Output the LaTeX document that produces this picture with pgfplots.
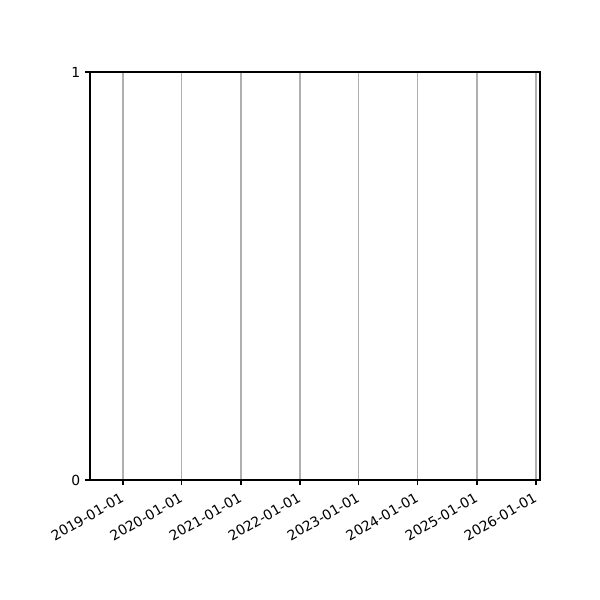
\documentclass[border=0pt]{standalone}
\usepackage{fontspec}
\setmainfont{DejaVu Sans}
\usepackage{pgfplots}
\pgfplotsset{compat=1.18}

\begin{document}
\begin{tikzpicture}
\path[use as bounding box] (-64.8pt,-86.4pt) rectangle (367.2pt,345.6pt);
\begin{axis}[
    at={(0,0)}, anchor=south west,
    scale only axis,
    width=324pt, height=293.76pt,
    xmin=-204, xmax=2582,
    ymin=0, ymax=1,
    xtick={0,365,731,1096,1461,1826,2192,2557},
    xticklabels={2019-01-01,2020-01-01,2021-01-01,2022-01-01,2023-01-01,2024-01-01,2025-01-01,2026-01-01},
    ytick={0,1},
    yticklabels={0,1},
    xmajorgrids,
    major grid style={color=black!31, line width=0.8pt},
    tick align=outside,
    tick pos=left,
    major tick length=3.5pt,
    every tick/.style={black, line width=0.8pt},
    axis line style={line width=0.8pt},
    tick label style={font=\fontsize{10}{12}\selectfont},
    x tick label style={rotate=30, anchor=north east, inner sep=1pt, xshift=-3.5pt, yshift=-2pt},
    /pgf/number format/assume math mode=true,
]
\end{axis}
\end{tikzpicture}
\end{document}
